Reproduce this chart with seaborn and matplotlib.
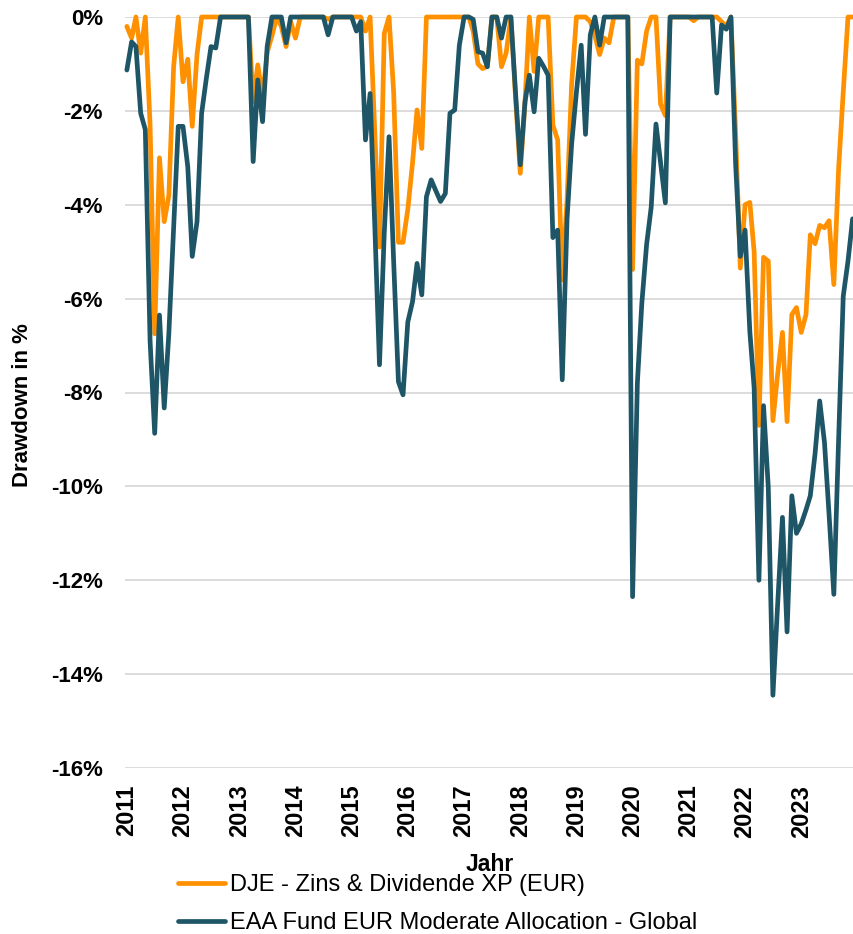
import matplotlib
matplotlib.use("Agg")
import matplotlib.pyplot as plt
import pandas as pd
import seaborn as sns

# Monatswerte Jan 2011 - Dez 2023, Drawdown in %
monate = pd.date_range("2011-01-01", periods=156, freq="MS")

dje = [
    -0.2, -0.45, 0, -0.77, 0, -2.3, -6.75, -3.0, -4.36, -3.8, -1.06, 0,
    -1.38, -0.9, -2.33, -0.8, 0, 0, 0, 0, 0, 0, 0, 0,
    0, 0, 0, -1.8, -1.02, -1.7, -0.75, -0.4, 0, -0.2, -0.63, -0.1,
    -0.45, 0, 0, 0, 0, 0, 0, -0.05, 0, 0, 0, 0,
    0, 0, 0, -0.3, 0, -2.5, -4.9, -0.35, 0, -1.6, -4.8, -4.8,
    -4.1, -3.1, -1.98, -2.8, 0, 0, 0, 0, 0, 0, 0, 0,
    0, 0, -0.3, -1.0, -1.1, -1.05, 0, 0, -1.06, -0.77, 0, -1.7,
    -3.33, -1.8, 0, -1.16, 0, 0, 0, -2.3, -2.62, -5.6, -3.9, -1.42,
    0, 0, 0, -0.1, -0.4, -0.8, -0.45, -0.55, 0, 0, 0, 0,
    -5.38, -0.92, -1.0, -0.3, 0, 0, -1.86, -2.1, 0, 0, 0, 0,
    0, -0.08, 0, 0, 0, 0, 0, -0.1, -0.2, 0, -2.5, -5.35,
    -4.0, -3.95, -5.0, -8.7, -5.12, -5.2, -8.6, -7.6, -6.72, -8.62, -6.34, -6.19,
    -6.72, -6.34, -4.64, -4.83, -4.44, -4.49, -4.34, -5.7, -3.23, -1.6, 0, 0,
]

eaa = [
    -1.13, -0.53, -0.63, -2.05, -2.4, -6.9, -8.87, -6.35, -8.33, -6.74, -4.5, -2.33,
    -2.33, -3.19, -5.1, -4.36, -2.05, -1.3, -0.63, -0.66, 0, 0, 0, 0,
    0, 0, 0, -3.08, -1.34, -2.23, -0.63, 0, 0, 0, -0.55, 0,
    0, 0, 0, 0, 0, 0, 0, -0.38, 0, 0, 0, 0,
    0, -0.3, -0.1, -2.62, -1.63, -4.5, -7.41, -4.6, -2.55, -5.2, -7.77, -8.05,
    -6.5, -6.06, -5.25, -5.92, -3.83, -3.47, -3.7, -3.93, -3.76, -2.05, -1.98, -0.6,
    0, 0, -0.05, -0.74, -0.77, -1.06, 0, 0, -0.45, 0, 0, -1.6,
    -3.15, -1.8, -1.24, -2.02, -0.88, -1.05, -1.24, -4.7, -4.54, -7.73, -4.3, -2.7,
    -1.6, -0.6, -2.5, -0.38, 0, -0.6, 0, 0, 0, 0, 0, 0,
    -12.35, -7.8, -6.1, -4.85, -4.05, -2.28, -3.1, -3.96, 0, 0, 0, 0,
    0, 0, 0, 0, 0, 0, -1.62, -0.17, -0.26, 0, -3.16, -5.1,
    -4.54, -6.7, -7.9, -12.0, -8.28, -10.03, -14.45, -12.5, -10.66, -13.1, -10.2, -11.0,
    -10.8, -10.5, -10.2, -9.3, -8.18, -9.06, -10.6, -12.3, -9.0, -5.95, -5.2, -4.3,
]

fonds = ["DJE - Zins & Dividende XP (EUR)", "EAA Fund EUR Moderate Allocation - Global"]
farben = {fonds[0]: "#FF9100", fonds[1]: "#1E5667"}
y_ticks = [0, -2, -4, -6, -8, -10, -12, -14, -16]
y_labels = [f"{v}%" for v in y_ticks]
jahre = list(range(2011, 2024))

df = pd.concat([
    pd.DataFrame({"Datum": monate, "Drawdown": dje, "Fonds": fonds[0]}),
    pd.DataFrame({"Datum": monate, "Drawdown": eaa, "Fonds": fonds[1]}),
])

sns.set_style("white")
plt.rcParams["font.family"] = ["Liberation Sans", "DejaVu Sans"]
plt.rcParams["lines.solid_joinstyle"] = "round"
for k in ["text.color", "axes.labelcolor", "xtick.color", "ytick.color"]:
    plt.rcParams[k] = "black"

fig = plt.figure(figsize=(8.54, 9.34), dpi=100)
ax = fig.add_axes([125 / 854, 166 / 934, 729 / 854, 751 / 934])

sns.lineplot(data=df, x="Datum", y="Drawdown", hue="Fonds", hue_order=fonds,
             palette=farben, linewidth=3.4, ax=ax)
for ln in ax.lines:
    ln.set_clip_on(False)

ax.set_ylim(-16, 0)
ax.set_xlim(pd.Timestamp("2010-12-20"), pd.Timestamp("2023-12-10"))
ax.set_yticks(y_ticks)
ax.set_yticklabels(y_labels, fontsize=16, fontweight="bold")
ax.set_xticks([pd.Timestamp(f"{j}-01-01") for j in jahre])
ax.set_xticklabels([str(j) for j in jahre], rotation=90, fontsize=17, fontweight="bold")
ax.tick_params(axis="both", length=0)
ax.tick_params(axis="y", pad=16)
ax.tick_params(axis="x", pad=12)

ax.grid(axis="y", color="#D9D9D9", linewidth=1.3)
ax.grid(axis="x", visible=False)
sns.despine(ax=ax, left=True, bottom=True)

ax.set_xlabel("Jahr", fontsize=16.5, fontweight="bold", labelpad=11)
ax.set_ylabel("Drawdown in %", fontsize=16, fontweight="bold")
ax.yaxis.set_label_coords(-(125 - 33) / 729, 0.483)

sns.move_legend(ax, "upper left", bbox_to_anchor=(178 / 854, 1 - 874 / 934),
                bbox_transform=fig.transFigure, frameon=False, title=None,
                fontsize=17, handlelength=2.0, handletextpad=0.2,
                labelspacing=0.68, borderpad=0, borderaxespad=0)

fig.savefig("out.png", dpi=100)
